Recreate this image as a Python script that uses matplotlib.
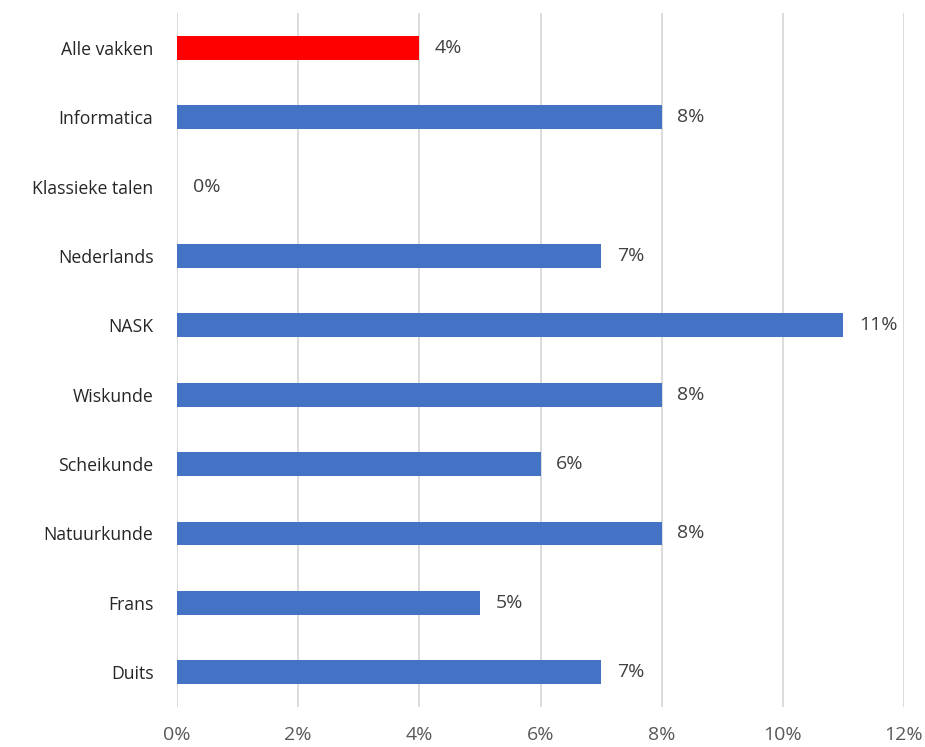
import matplotlib
matplotlib.use("Agg")
import matplotlib.pyplot as plt
from matplotlib.ticker import FuncFormatter

categories = ["Alle vakken", "Informatica", "Klassieke talen", "Nederlands", "NASK",
              "Wiskunde", "Scheikunde", "Natuurkunde", "Frans", "Duits"]
values = [4, 8, 0, 7, 11, 8, 6, 8, 5, 7]
colors = ["#FF0000"] + ["#4472C4"] * 9
xticks = [0, 2, 4, 6, 8, 10, 12]

plt.rcParams['font.family'] = ['Open Sans', 'DejaVu Sans']

fig = plt.figure(figsize=(9.25, 7.47), dpi=100)
ax = fig.add_axes([177/925, 1-707/747, (904-177)/925, (707-13)/747])

ypos = list(range(len(categories)))
ax.barh(ypos, values, height=0.345, color=colors, zorder=3)
for y, v in zip(ypos, values):
    ax.text(v + 0.26, y, f"{v}%", va="center", ha="left", fontsize=14, color="#404040")

ax.set_xlim(0, 12)
ax.set_ylim(len(categories) - 0.5, -0.5)
ax.set_xticks(xticks)
ax.xaxis.set_major_formatter(FuncFormatter(lambda x, p: f"{int(x)}%"))
ax.set_yticks(ypos)
ax.set_yticklabels(categories)
ax.tick_params(axis="x", length=0, pad=14, labelsize=14, labelcolor="#595959")
ax.tick_params(axis="y", length=0, pad=17, labelsize=12.7, labelcolor="#262626")
ax.grid(axis="x", color="#d9d9d9", linewidth=1.3, zorder=0)
for s in ax.spines.values():
    s.set_visible(False)

fig.savefig("out.png", dpi=100)
